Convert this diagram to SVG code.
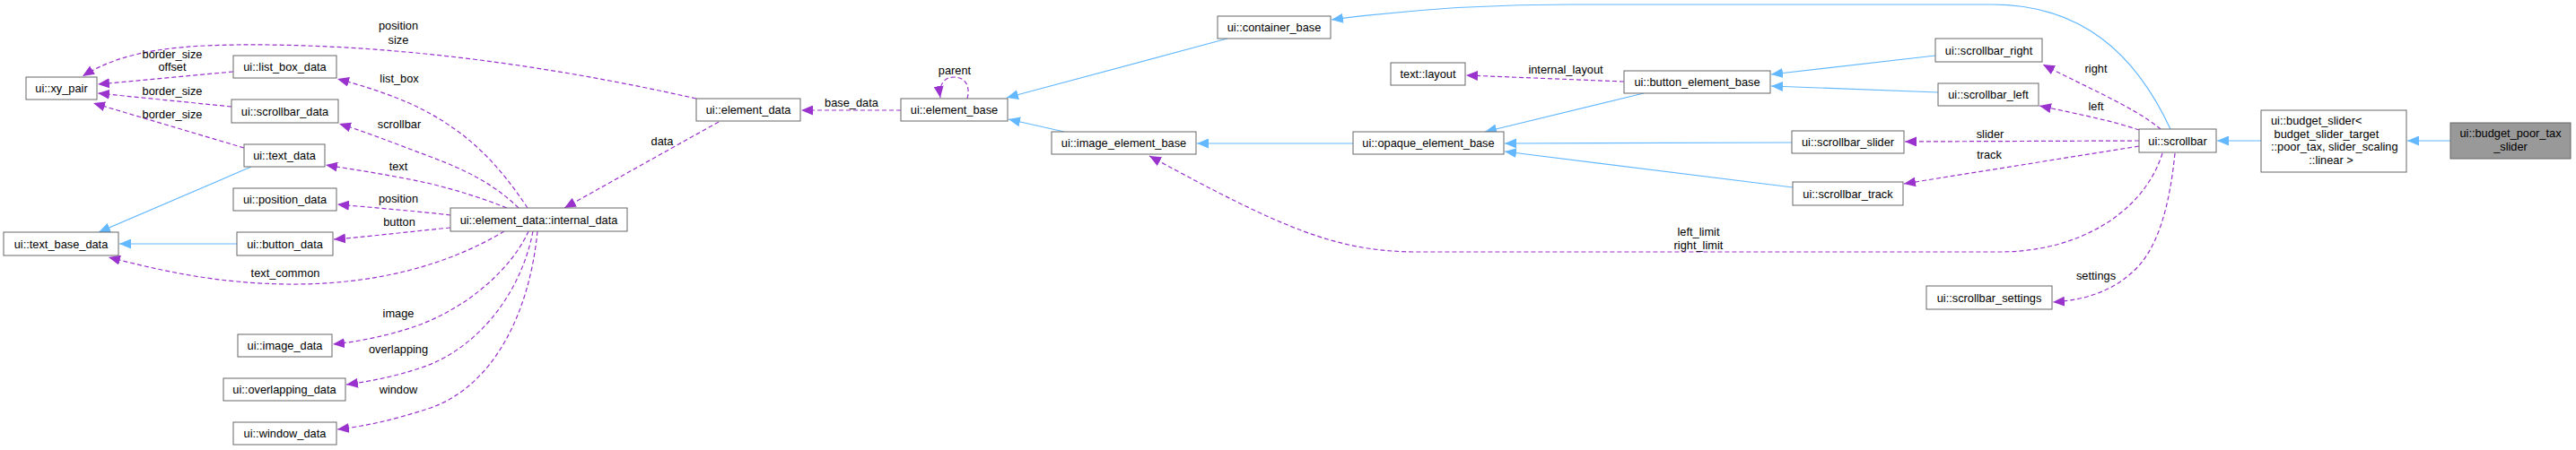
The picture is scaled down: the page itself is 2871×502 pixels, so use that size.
<svg xmlns="http://www.w3.org/2000/svg" width="2871" height="502" viewBox="0 0 2871 502">
<style>
text{font-family:"Liberation Sans",Arial,Helvetica,sans-serif;font-size:12.8px;fill:#000}
.n rect{fill:#fff;stroke:#666;stroke-width:1}
.n text{text-anchor:middle}
.n text.l{text-anchor:start}
.hl rect{fill:#999}
.inh{fill:none;stroke:#63b8ff;stroke-width:1.2}
.use{fill:none;stroke:#9a32cd;stroke-width:1.2;stroke-dasharray:5,3}
.lbl{text-anchor:middle}
</style>
<defs>
<marker id="ab" markerUnits="userSpaceOnUse" markerWidth="14" markerHeight="11" refX="13" refY="5.5" orient="auto"><path d="M0,0 L13,5.5 L0,11 z" fill="#63b8ff"/></marker>
<marker id="ap" markerUnits="userSpaceOnUse" markerWidth="14" markerHeight="11" refX="13" refY="5.5" orient="auto"><path d="M0,0 L13,5.5 L0,11 z" fill="#9a32cd"/></marker>
</defs>
<rect width="2871" height="502" fill="#fff"/>
<g id="connectors">
<path class="inh" marker-end="url(#ab)" d="M2731,157 L2683,157"/>
<path class="inh" marker-end="url(#ab)" d="M2520,157 L2471,157"/>
<path class="inh" marker-end="url(#ab)" d="M2419,144 C2380,60 2320,5 2220,5 L1750,5 C1640,5 1560,12 1484,22"/>
<path class="inh" marker-end="url(#ab)" d="M1368,43 L1122,109"/>
<path class="inh" marker-end="url(#ab)" d="M1186,147 L1124,133"/>
<path class="inh" marker-end="url(#ab)" d="M1508,160 L1334,160"/>
<path class="inh" marker-end="url(#ab)" d="M1832,104 L1655,147"/>
<path class="inh" marker-end="url(#ab)" d="M1997,159 L1677,160"/>
<path class="inh" marker-end="url(#ab)" d="M1998,209 L1677,169"/>
<path class="inh" marker-end="url(#ab)" d="M2157,62 L1974,83"/>
<path class="inh" marker-end="url(#ab)" d="M2160,103 L1974,96"/>
<path class="inh" marker-end="url(#ab)" d="M280,186 L110,259"/>
<path class="inh" marker-end="url(#ab)" d="M264,272 L133,272"/>

<path class="use" marker-end="url(#ap)" d="M2408,144 C2380,120 2320,95 2277,72"/>
<path class="use" marker-end="url(#ap)" d="M2384,145 C2355,135 2320,128 2273,118"/>
<path class="use" marker-end="url(#ap)" d="M2384,157 L2123,158"/>
<path class="use" marker-end="url(#ap)" d="M2384,163 L2122,205"/>
<path class="use" marker-end="url(#ap)" d="M2410,171 C2390,235 2320,281 2228,281 L1580,281 C1490,281 1430,255 1281,174"/>
<path class="use" marker-end="url(#ap)" d="M2424,171 C2418,230 2405,280 2375,305 C2350,327 2320,335 2288,337"/>
<path class="use" marker-end="url(#ap)" d="M1810,91 L1634,84"/>
<path class="use" marker-end="url(#ap)" d="M1004,123 L893,123"/>
<path class="use" marker-end="url(#ap)" d="M1078,110 C1082,95 1075,86 1063,86 C1052,86 1046,95 1048,109"/>
<path class="use" marker-end="url(#ap)" d="M801,136 L629,232"/>
<path class="use" marker-end="url(#ap)" d="M776,110 C620,75 460,52 300,50 C200,49 140,55 92,85"/>
<path class="use" marker-end="url(#ap)" d="M260,80 L109,94"/>
<path class="use" marker-end="url(#ap)" d="M258,119 L109,104"/>
<path class="use" marker-end="url(#ap)" d="M272,165 L104,115"/>
<path class="use" marker-end="url(#ap)" d="M588,232 C560,190 530,155 480,127 C450,110 410,97 376,88"/>
<path class="use" marker-end="url(#ap)" d="M578,232 C550,205 520,190 480,175 C440,160 410,148 378,138"/>
<path class="use" marker-end="url(#ap)" d="M565,232 C530,218 500,210 480,205 C440,196 400,190 363,184"/>
<path class="use" marker-end="url(#ap)" d="M502,240 C470,236 420,232 376,228"/>
<path class="use" marker-end="url(#ap)" d="M502,254 C460,258 420,263 372,267"/>
<path class="use" marker-end="url(#ap)" d="M562,258 C500,295 420,318 320,317 C240,316 180,302 121,287"/>
<path class="use" marker-end="url(#ap)" d="M589,258 C570,300 520,345 460,365 C430,375 400,381 371,384"/>
<path class="use" marker-end="url(#ap)" d="M594,258 C580,330 530,390 470,410 C440,420 415,425 386,429"/>
<path class="use" marker-end="url(#ap)" d="M599,258 C590,350 550,430 480,455 C440,468 410,475 376,479"/>

<text class="lbl" x="2336" y="81">right</text>
<text class="lbl" x="2336" y="123">left</text>
<text class="lbl" x="2218" y="154">slider</text>
<text class="lbl" x="2217" y="177">track</text>
<text class="lbl" x="1893" y="263">left_limit</text>
<text class="lbl" x="1893" y="278">right_limit</text>
<text class="lbl" x="2336" y="312">settings</text>
<text class="lbl" x="1745" y="82">internal_layout</text>
<text class="lbl" x="949" y="119">base_data</text>
<text class="lbl" x="1064" y="83">parent</text>
<text class="lbl" x="738" y="162">data</text>
<text class="lbl" x="444" y="33">position</text>
<text class="lbl" x="444" y="49">size</text>
<text class="lbl" x="192" y="65">border_size</text>
<text class="lbl" x="192" y="79">offset</text>
<text class="lbl" x="192" y="106">border_size</text>
<text class="lbl" x="192" y="132">border_size</text>
<text class="lbl" x="445" y="92">list_box</text>
<text class="lbl" x="445" y="143">scrollbar</text>
<text class="lbl" x="444" y="190">text</text>
<text class="lbl" x="444" y="226">position</text>
<text class="lbl" x="445" y="252">button</text>
<text class="lbl" x="318" y="309">text_common</text>
<text class="lbl" x="444" y="354">image</text>
<text class="lbl" x="444" y="394">overlapping</text>
<text class="lbl" x="444" y="439">window</text>
</g>

<g id="node_budget_poor_tax_slider" class="n hl"><rect x="2731" y="137" width="134" height="40"/><text x="2798" y="153">ui::budget_poor_tax</text><text x="2798" y="168">_slider</text></g>
<g id="node_budget_slider" class="n"><rect x="2520" y="123" width="162" height="69"/><text class="l" x="2531" y="139">ui::budget_slider&lt;</text><text class="l" x="2531" y="154" xml:space="preserve"> budget_slider_target</text><text class="l" x="2531" y="168">::poor_tax, slider_scaling</text><text x="2598" y="183">::linear &gt;</text></g>
<g id="node_scrollbar" class="n"><rect x="2384" y="144" width="86" height="26"/><text x="2427" y="161.5">ui::scrollbar</text></g>
<g id="node_container_base" class="n"><rect x="1357" y="18" width="126" height="25"/><text x="1420" y="35">ui::container_base</text></g>
<g id="node_element_base" class="n"><rect x="1004" y="110" width="119" height="25"/><text x="1063.5" y="127">ui::element_base</text></g>
<g id="node_element_data" class="n"><rect x="776" y="110" width="116" height="25"/><text x="834" y="127">ui::element_data</text></g>
<g id="node_internal_data" class="n"><rect x="502" y="232" width="197" height="26"/><text x="600.5" y="249.5">ui::element_data::internal_data</text></g>
<g id="node_xy_pair" class="n"><rect x="29" y="86" width="79" height="25"/><text x="68.5" y="103">ui::xy_pair</text></g>
<g id="node_text_base_data" class="n"><rect x="4" y="259" width="128" height="26"/><text x="68" y="276.5">ui::text_base_data</text></g>
<g id="node_list_box_data" class="n"><rect x="260" y="62" width="115" height="25"/><text x="317.5" y="79">ui::list_box_data</text></g>
<g id="node_scrollbar_data" class="n"><rect x="258" y="111" width="119" height="26"/><text x="317.5" y="128.5">ui::scrollbar_data</text></g>
<g id="node_text_data" class="n"><rect x="272" y="161" width="90" height="25"/><text x="317" y="178">ui::text_data</text></g>
<g id="node_position_data" class="n"><rect x="260" y="210" width="115" height="25"/><text x="317.5" y="227">ui::position_data</text></g>
<g id="node_button_data" class="n"><rect x="264" y="259" width="107" height="26"/><text x="317.5" y="276.5">ui::button_data</text></g>
<g id="node_image_data" class="n"><rect x="265" y="373" width="105" height="25"/><text x="317.5" y="390">ui::image_data</text></g>
<g id="node_overlapping_data" class="n"><rect x="249" y="422" width="136" height="25"/><text x="317" y="439">ui::overlapping_data</text></g>
<g id="node_window_data" class="n"><rect x="260" y="471" width="115" height="25"/><text x="317.5" y="488">ui::window_data</text></g>
<g id="node_image_element_base" class="n"><rect x="1172" y="147" width="161" height="25"/><text x="1252.5" y="164">ui::image_element_base</text></g>
<g id="node_text_layout" class="n"><rect x="1550" y="70" width="83" height="25"/><text x="1591.5" y="87">text::layout</text></g>
<g id="node_opaque_element_base" class="n"><rect x="1508" y="147" width="168" height="25"/><text x="1592" y="164">ui::opaque_element_base</text></g>
<g id="node_button_element_base" class="n"><rect x="1810" y="79" width="163" height="25"/><text x="1891.5" y="96">ui::button_element_base</text></g>
<g id="node_scrollbar_right" class="n"><rect x="2157" y="43" width="119" height="26"/><text x="2216.5" y="60.5">ui::scrollbar_right</text></g>
<g id="node_scrollbar_left" class="n"><rect x="2160" y="93" width="112" height="25"/><text x="2216" y="110">ui::scrollbar_left</text></g>
<g id="node_scrollbar_slider" class="n"><rect x="1997" y="146" width="125" height="25"/><text x="2059.5" y="163">ui::scrollbar_slider</text></g>
<g id="node_scrollbar_track" class="n"><rect x="1998" y="203" width="123" height="26"/><text x="2059.5" y="220.5">ui::scrollbar_track</text></g>
<g id="node_scrollbar_settings" class="n"><rect x="2147" y="319" width="140" height="26"/><text x="2217" y="336.5">ui::scrollbar_settings</text></g>
</svg>
